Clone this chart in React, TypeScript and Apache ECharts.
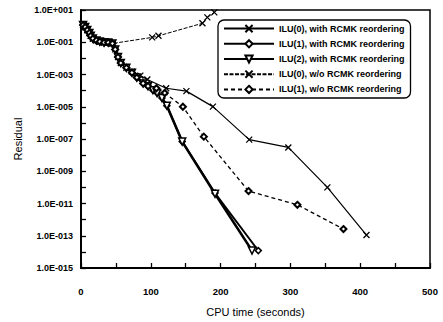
import React, { useEffect, useRef } from 'react';
import * as echarts from 'echarts';

const seriesNames = [
  'ILU(0), with RCMK reordering',
  'ILU(1), with RCMK reordering',
  'ILU(2), with RCMK reordering',
  'ILU(0), w/o RCMK reordering',
  'ILU(1), w/o RCMK reordering',
];

// shared start-up cluster
const clusterT = [3, 6, 9, 12, 14, 17, 22, 27, 33, 39, 45];
const clusterR = [1.16, 0.88, 0.58, 0.38, 0.25, 0.17, 0.13, 0.11, 0.096, 0.096, 0.084];

const ilu0RcmkT = [...clusterT, 49, 53, 57, 65, 73, 85, 95, 122, 151, 189, 241, 297, 353, 409];
const ilu0RcmkR = [...clusterR, 0.036, 0.012, 0.0052, 0.0026, 1.5e-3, 8.5e-4, 4.9e-4, 1.4e-4, 9.3e-5, 1.02e-5, 9.1e-8, 3.0e-8, 1.0e-10, 1.1e-13];

const ilu1RcmkT = [...clusterT, 49, 53, 57, 65, 73, 80, 89, 96, 103, 109, 116, 123, 145, 192, 254];
const ilu1RcmkR = [...clusterR, 0.036, 0.012, 0.0052, 0.0026, 0.0013, 6.5e-4, 2.8e-4, 1.9e-4, 1.07e-4, 7.1e-5, 3.5e-5, 1.17e-5, 6.9e-8, 4.4e-11, 1.2e-14];

const ilu2RcmkT = [...clusterT, 49, 53, 57, 65, 73, 80, 89, 96, 103, 109, 116, 123, 145, 192, 245];
const ilu2RcmkR = [...clusterR, 0.036, 0.012, 0.0052, 0.0026, 0.0013, 6.5e-4, 2.8e-4, 1.9e-4, 1.07e-4, 7.1e-5, 3.5e-5, 1.17e-5, 6.9e-8, 4.0e-11, 1.2e-14];

const ilu0NoT = [...clusterT, 102, 111, 174, 181, 191];
const ilu0NoR = [...clusterR, 0.2, 0.25, 1.5, 3.5, 7.1];

const ilu1NoT = [...clusterT, 49, 53, 57, 65, 73, 80, 89, 96, 108, 120, 146, 176, 240, 310, 376];
const ilu1NoR = [...clusterR, 0.036, 0.012, 0.0052, 0.0026, 0.0013, 6.5e-4, 2.8e-4, 1.9e-4, 1.4e-4, 7.1e-5, 1.0e-5, 1.4e-7, 5.9e-11, 8.3e-12, 2.6e-13];

const xTickLabels = ['0', '100', '200', '300', '400', '500'];

const pairs = (t: number[], r: number[]) => t.map((v, i) => [v, r[i]]);

const FONT = 'Liberation Sans, Arial, sans-serif';
const CROSS = 'path://M0,0L10,10M10,0L0,10';
const TRI = 'path://M0,0L10,0L5,9Z';

function fmtExp(v: number) {
  const e = Math.round(Math.log10(v));
  const sign = e < 0 ? '-' : '+';
  return `1.0E${sign}${String(Math.abs(e)).padStart(3, '0')}`;
}

export default function App() {
  const ref = useRef<HTMLDivElement>(null);
  useEffect(() => {
    const chart = echarts.init(ref.current!, null, { renderer: 'svg' });
    const option: any = {
      animation: false,
      backgroundColor: '#fff',
      grid: {
        left: 81,
        right: 13,
        top: 10,
        bottom: 47,
        show: true,
        borderColor: '#000',
        borderWidth: 1.5,
      },
      legend: {
        orient: 'vertical',
        left: 218,
        top: 20,
        itemWidth: 50,
        itemHeight: 9,
        itemGap: 6,
        padding: [4, 6, 4, 5],
        borderColor: '#000',
        borderWidth: 1.3,
        borderRadius: 6,
        backgroundColor: '#fff',
        textStyle: { fontSize: 9, fontWeight: 'bold', fontFamily: FONT, color: '#000' },
        data: seriesNames,
      },
      xAxis: {
        type: 'value',
        min: 0,
        max: 500,
        interval: 50,
        axisLine: { lineStyle: { color: '#000', width: 2 } },
        axisTick: { inside: true, length: 5, lineStyle: { color: '#000', width: 1.3 } },
        splitLine: { show: false },
        axisLabel: {
          margin: 18,
          fontSize: 9.5,
          fontWeight: 'bold',
          fontFamily: FONT,
          color: '#000',
          formatter: (v: number) => (xTickLabels.includes(String(v)) ? String(v) : ''),
        },
        name: 'CPU time (seconds)',
        nameLocation: 'middle',
        nameGap: 38,
        nameTextStyle: { fontSize: 11, fontFamily: FONT, color: '#000' },
      },
      yAxis: {
        type: 'log',
        logBase: 10,
        min: 1e-15,
        max: 10,
        interval: 1,
        splitNumber: 16,
        axisLine: { lineStyle: { color: '#000', width: 2 } },
        axisTick: { inside: true, length: 5, lineStyle: { color: '#000', width: 1.3 } },
        splitLine: { show: false },
        minorTick: { show: false },
        axisLabel: {
          interval: 1,
          margin: 8,
          fontSize: 9,
          fontWeight: 'bold',
          fontFamily: FONT,
          color: '#000',
          formatter: (v: number) => {
            const e = Math.round(Math.log10(v));
            return Math.abs(e) % 2 === 1 ? fmtExp(v) : '';
          },
        },
        name: 'Residual',
        nameLocation: 'middle',
        nameGap: 55,
        nameTextStyle: { fontSize: 11, fontFamily: FONT, color: '#000' },
      },
      series: [
        {
          name: seriesNames[0],
          type: 'line',
          data: pairs(ilu0RcmkT, ilu0RcmkR),
          symbol: CROSS,
          symbolSize: 6,
          lineStyle: { color: '#000', width: 1.2, type: 'solid' },
          itemStyle: { color: '#000', borderColor: '#000', borderWidth: 1.3 },
        },
        {
          name: seriesNames[1],
          type: 'line',
          data: pairs(ilu1RcmkT, ilu1RcmkR),
          symbol: 'diamond',
          symbolSize: 6,
          lineStyle: { color: '#000', width: 1.8, type: 'solid' },
          itemStyle: { color: '#fff', borderColor: '#000', borderWidth: 1.5 },
        },
        {
          name: seriesNames[2],
          type: 'line',
          data: pairs(ilu2RcmkT, ilu2RcmkR),
          symbol: TRI,
          symbolSize: 7,
          lineStyle: { color: '#000', width: 2.6, type: 'solid' },
          itemStyle: { color: '#fff', borderColor: '#000', borderWidth: 1.5 },
        },
        {
          name: seriesNames[3],
          type: 'line',
          data: pairs(ilu0NoT, ilu0NoR),
          symbol: CROSS,
          symbolSize: 6,
          lineStyle: { color: '#000', width: 1, type: [4, 1.5] },
          itemStyle: { color: '#000', borderColor: '#000', borderWidth: 1.3 },
        },
        {
          name: seriesNames[4],
          type: 'line',
          data: pairs(ilu1NoT, ilu1NoR),
          symbol: 'diamond',
          symbolSize: 6,
          lineStyle: { color: '#000', width: 1.3, type: [4, 3] },
          itemStyle: { color: '#fff', borderColor: '#000', borderWidth: 2 },
        },
      ],
    };
    chart.setOption(option);
    return () => chart.dispose();
  }, []);
  return (
    <div
      ref={ref}
      style={{ position: 'fixed', left: 0, top: 0, width: 443, height: 322, background: '#fff' }}
    />
  );
}
